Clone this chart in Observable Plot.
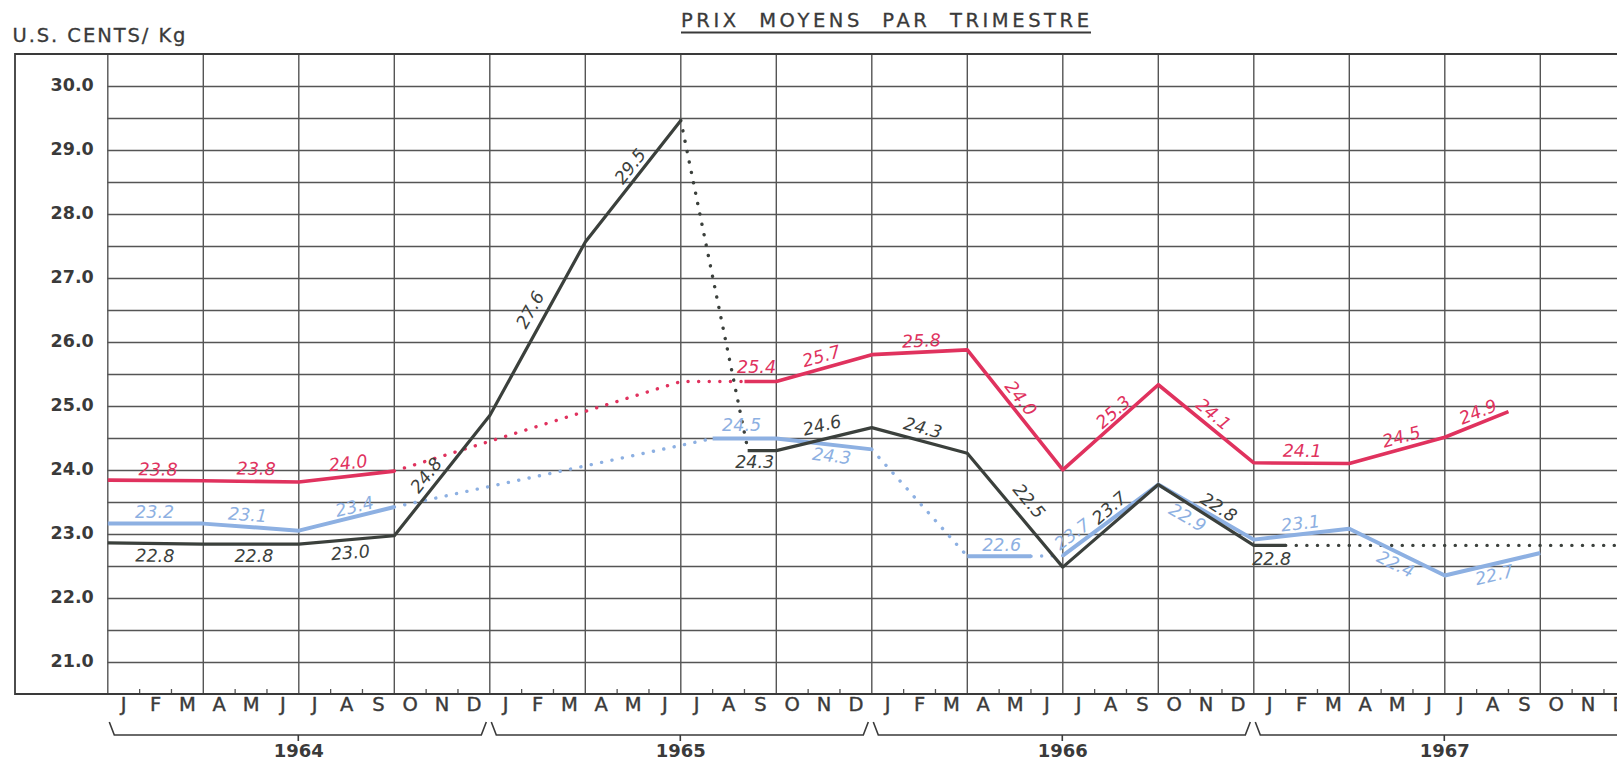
<!DOCTYPE html>
<html><head><meta charset="utf-8">
<script src="https://cdn.jsdelivr.net/npm/d3@7"></script>
<script src="https://cdn.jsdelivr.net/npm/@observablehq/plot@0.6"></script>
<style>
html,body{margin:0;padding:0;background:#fff;overflow:hidden;}
#chart svg{display:block;overflow:hidden;}
</style></head><body><div id="chart"></div>
<script>
// ---- data (x = months counted from January 1964, y = US cents / kg) ----
const monthLetters = ["J","F","M","A","M","J","J","A","S","O","N","D"];
const years = [1964, 1965, 1966, 1967];
const yTicks = [21, 22, 23, 24, 25, 26, 27, 28, 29, 30];

const redSolid1 = [[0,23.85],[3,23.84],[6,23.82],[9,23.99]];
const redDotted = [[9,23.99],[18,25.39],[20,25.39]];
const redSolid2 = [[20,25.39],[21,25.39],[24,25.81],[27,25.885],[30,24.01],[33,25.34],[36,24.12],[39,24.11],[42,24.52],[44,24.92]];

const blueSolid1 = [[0,23.17],[3,23.17],[6,23.06],[9,23.43]];
const blueDotted1 = [[9,23.43],[19,24.5]];
const blueSolid2 = [[19,24.5],[21,24.5],[24,24.33]];
const blueDotted2 = [[24,24.33],[27,22.66]];
const blueSolid3 = [[27,22.66],[29,22.66]];
const blueDotted3 = [[29,22.66],[30,22.67]];
const blueSolid4 = [[30,22.67],[33,23.78],[36,22.92],[39,23.09],[42,22.36],[45,22.71]];

const blackSolid1 = [[0,22.87],[3,22.85],[6,22.85],[9,22.98],[12,24.86],[15,27.57],[18,29.47]];
const blackDotted1 = [[18,29.47],[20.1,24.34]];
const blackSolid2 = [[20.1,24.31],[21,24.31],[24,24.67],[27,24.27],[30,22.49],[33,23.78],[36,22.83],[37,22.83]];
const blackDotted2 = [[37,22.83],[48,22.83]];

// value labels: [text, month position, value position]
const redLabels = [["23.8",1.58,24.01],["23.8",4.66,24.02],["24.0",7.55,24.11],["25.4",20.38,25.61],["25.7",22.42,25.78],["25.8",25.56,26.02],["24.0",28.67,25.125],["25.3",31.59,24.91],["24.1",34.72,24.875],["24.1",37.52,24.30],["24.5",40.64,24.52],["24.9",43.05,24.91]];
const blueLabels = [["23.2",1.47,23.34],["23.1",4.39,23.30],["23.4",7.75,23.43],["24.5",19.91,24.70],["24.3",22.74,24.22],["22.6",28.08,22.83],["23.7",30.30,23.0],["22.9",33.91,23.26],["23.1",37.47,23.17],["22.4",40.45,22.53],["22.7",43.56,22.36]];
const blackLabels = [["22.8",1.48,22.66],["22.8",4.59,22.66],["23.0",7.62,22.71],["24.8",10.01,23.92],["27.6",13.28,26.51],["29.5",16.42,28.75],["24.3",20.32,24.12],["24.6",22.44,24.70],["24.3",25.6,24.66],["22.5",28.93,23.52],["23.7",31.47,23.41],["22.8",34.89,23.42],["22.8",36.56,22.61]];

// ---- layout ----
const W = 1617, H = 765;
const mLeft = 107.3, xEnd = 1635.3, mTop = 54, yBottom = 694;
const xDomain = [0, 48], yDomain = [20.5, 30.5];
const kx = (xEnd - mLeft) / (xDomain[1] - xDomain[0]);
const ky = (yBottom - mTop) / (yDomain[1] - yDomain[0]);

const RED = "#e0325e", BLUE = "#8db0e2", BLACK = "#3b403c", INK = "#3a3a3a", GRID = "#555";

function withAngles(labels, segs) {
  const pts = segs.flat().slice().sort((a, b) => a[0] - b[0]);
  return labels.map(([t, m, v]) => {
    let ang = 0;
    for (let i = 0; i < pts.length - 1; i++) {
      const [m1, v1] = pts[i], [m2, v2] = pts[i + 1];
      if (m2 > m1 && m >= m1 && m <= m2) {
        ang = Math.atan2(-(v2 - v1) * ky, (m2 - m1) * kx) * 180 / Math.PI;
        break;
      }
    }
    return {t, m, v, ang};
  });
}
const redL = withAngles(redLabels, [redSolid1, redDotted, redSolid2]);
const blueL = withAngles(blueLabels, [blueSolid1, blueDotted1, blueSolid2, blueDotted2, blueSolid3, blueDotted3, blueSolid4]);
const blackL = withAngles(blackLabels, [blackSolid1, blackDotted1, blackSolid2, blackDotted2]);

const months = d3.range(48);
const quarterLines = d3.range(0, 49, 3);
const monthTicks = d3.range(1, 48).filter(m => m % 3 !== 0);
const gridY = d3.range(21, 30.01, 0.5);

const solid = (data, stroke, w) => Plot.line(data, {x: d => d[0], y: d => d[1], stroke, strokeWidth: w, strokeLinejoin: "round", strokeLinecap: "butt"});
const dotted = (data, stroke) => Plot.line(data, {x: d => d[0], y: d => d[1], stroke, strokeWidth: 3.4, strokeDasharray: "0.1 10.5", strokeLinecap: "round"});
const labels = (data, fill) => Plot.text(data, {x: "m", y: "v", text: "t", rotate: "ang", fill, fontSize: 17.5, fontStyle: "italic", fontFamily: "DejaVu Sans"});

const chart = Plot.plot({
  width: W, height: H,
  marginLeft: mLeft, marginRight: W - xEnd, marginTop: mTop, marginBottom: H - yBottom,
  x: {domain: xDomain, axis: null},
  y: {domain: yDomain, axis: null},
  style: {fontFamily: "DejaVu Sans", color: INK, background: "#fff"},
  marks: [
    Plot.ruleY(gridY, {y: d => d, stroke: GRID, strokeWidth: 1.3}),
    Plot.ruleX(quarterLines, {x: d => d, stroke: GRID, strokeWidth: 1.4}),
    Plot.ruleX(monthTicks, {x: d => d, y1: yDomain[0], y2: yDomain[0] + 5 / ky, stroke: GRID, strokeWidth: 1.3}),
    Plot.text(yTicks, {y: d => d, frameAnchor: "left", dx: -14, dy: -1.5, textAnchor: "end", text: d => d.toFixed(1), fontSize: 17.5, fontWeight: "bold", fill: INK}),
    Plot.text(months, {x: d => d + 0.5, frameAnchor: "bottom", dy: 16, text: d => monthLetters[d % 12], fontSize: 19.5, fill: INK, stroke: INK, strokeWidth: 0.4}),
    Plot.text(years, {x: (d, i) => 12 * i + 6, frameAnchor: "bottom", dy: 62.5, text: d => String(d), fontSize: 18, fontWeight: "bold", fill: INK, letterSpacing: 0.5}),
    dotted(redDotted, RED),
    dotted(blueDotted1, BLUE), dotted(blueDotted2, BLUE), dotted(blueDotted3, BLUE),
    dotted(blackDotted1, BLACK), dotted(blackDotted2, BLACK),
    solid(blueSolid1, BLUE, 4), solid(blueSolid2, BLUE, 4), solid(blueSolid3, BLUE, 4), solid(blueSolid4, BLUE, 4),
    solid(blackSolid1, BLACK, 3.2), solid(blackSolid2, BLACK, 3.2),
    solid(redSolid1, RED, 3.6), solid(redSolid2, RED, 3.6),
    labels(redL, RED), labels(blueL, BLUE), labels(blackL, BLACK)
  ]
});
document.getElementById("chart").appendChild(chart);

// ---- decorations positioned through Plot's own scales ----
const svg = d3.select(chart);
const xs = chart.scale("x"), ys = chart.scale("y");
const X = v => xs.apply(v), Y = v => ys.apply(v);
const yTop = Y(yDomain[1]), yBot = Y(yDomain[0]);

// outer frame (left box for the y labels, top and bottom lines)
svg.append("path")
  .attr("d", `M${W + 10},${yTop}H15V${yBot}H${W + 10}`)
  .attr("fill", "none").attr("stroke", INK).attr("stroke-width", 1.8);

// year braces
years.forEach((yr, i) => {
  const x0 = X(12 * i) + 2, x1 = X(12 * i + 12) - 3, xc = X(12 * i + 6);
  const top = yBot + 28, base = yBot + 41;
  svg.append("path")
    .attr("d", `M${x0},${top}L${x0 + 5},${base}H${x1 - 5}L${x1},${top}M${xc},${base}V${base + 6}`)
    .attr("fill", "none").attr("stroke", INK).attr("stroke-width", 1.6);
});

// title and unit
svg.append("text").text("PRIX  MOYENS  PAR  TRIMESTRE")
  .attr("x", 681).attr("y", 20).attr("dominant-baseline", "central").attr("text-anchor", "start")
  .attr("textLength", 408).attr("lengthAdjust", "spacing")
  .attr("font-size", 19.5).attr("fill", INK).attr("stroke", INK).attr("stroke-width", 0.3).attr("font-family", "DejaVu Sans");
svg.append("line").attr("x1", 681).attr("x2", 1091).attr("y1", 32.5).attr("y2", 32.5)
  .attr("stroke", INK).attr("stroke-width", 1.8);
svg.append("text").text("U.S. CENTS/ Kg")
  .attr("x", 12.5).attr("y", 35).attr("dominant-baseline", "central").attr("text-anchor", "start")
  .attr("textLength", 173).attr("lengthAdjust", "spacing")
  .attr("font-size", 19.5).attr("fill", INK).attr("stroke", INK).attr("stroke-width", 0.3).attr("font-family", "DejaVu Sans");
</script></body></html>
